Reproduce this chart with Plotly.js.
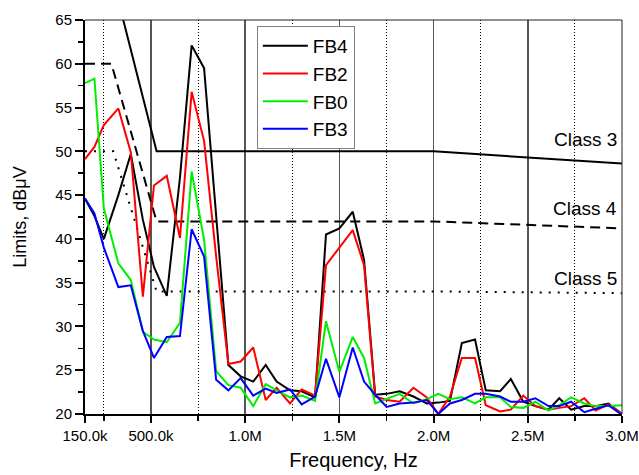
<!DOCTYPE html>
<html>
<head>
<meta charset="utf-8">
<script src="https://cdn.plot.ly/plotly-3.0.1.min.js"></script>
<style>html,body{margin:0;padding:0;background:#fff;}#chart{width:639px;height:475px;}</style>
</head>
<body>
<div id="chart"></div>
<script>
// Frequencies (MHz) of the measurement points
var freqMHz = [0.15,0.20,0.25,0.327,0.393,0.457,0.516,0.584,0.654,0.716,0.782,0.846,0.911,0.976,1.043,1.109,1.167,1.238,1.30,1.371,1.429,1.50,1.571,1.631,1.69,1.751,1.82,1.893,1.964,2.025,2.087,2.15,2.22,2.277,2.353,2.41,2.476,2.54,2.61,2.667,2.73,2.80,2.86,2.928,3.0];
var fb4 = [44.6,42.6,40.0,45.0,49.7,42.2,36.8,33.5,47.0,62.1,59.5,42.5,25.6,24.3,23.7,25.6,23.7,22.7,22.6,21.9,40.5,41.2,43.1,37.6,22.2,22.3,22.6,22.0,21.2,21.3,21.5,28.1,28.5,22.7,22.6,24.0,21.4,20.9,20.5,21.8,20.5,20.9,20.9,21.2,20.0];
var fb2 = [49.1,50.5,53.0,54.9,49.9,33.4,46.1,47.2,40.1,56.8,51.2,38.0,25.7,26.0,27.6,21.6,23.0,21.2,22.8,22.1,37.0,39.0,41.0,37.0,22.0,21.6,21.4,23.0,21.9,20.0,22.0,26.4,26.4,21.0,20.3,20.5,22.1,20.9,20.5,20.7,20.9,21.8,20.4,21.1,20.0];
var fb0 = [57.8,58.3,43.5,37.2,35.3,29.4,28.5,28.2,30.4,47.7,39.9,24.9,23.3,23.0,20.9,23.4,22.7,21.9,22.1,21.5,30.6,24.8,28.8,26.4,21.2,21.7,22.3,21.2,21.7,22.3,21.7,21.9,21.2,21.9,21.9,20.8,20.7,21.4,20.4,21.0,21.9,21.2,20.9,20.9,21.0];
var fb3 = [44.6,42.9,39.0,34.5,34.7,29.5,26.4,28.8,28.9,41.1,38.0,23.9,22.7,24.1,22.1,22.9,22.4,22.8,21.1,22.0,26.3,21.9,27.6,23.7,22.2,20.8,21.2,21.3,21.6,20.0,21.2,21.6,22.3,22.3,22.0,21.4,21.4,21.8,20.9,20.9,21.4,20.2,20.6,21.0,19.9];

// Limit lines
var class3F = [0.30,0.53,2.0,3.0];
var class3V = [69.5,50,50,48.6];
var class4F = [0.15,0.29,0.53,2.0,3.0];
var class4V = [60,60,42,42,41.2];
var class5F = [0.15,0.30,0.53,2.0,3.0];
var class5V = [50,50,34,34,33.8];

var seriesNames = ['FB4','FB2','FB0','FB3'];
var seriesColors = ['#000000','#ff0000','#00ee00','#0000ff'];
var seriesValues = [fb4, fb2, fb0, fb3];

var classNames = ['Class 3','Class 4','Class 5'];
var classLabelY = [51.3,43.5,35.5];

var xTickVals = [150000,500000,1000000,1500000,2000000,2500000,3000000];
var xTickText = ['150.0k','500.0k','1.0M','1.5M','2.0M','2.5M','3.0M'];
var xMinorVals = [250000,750000,1250000,1750000,2250000,2750000];

function hz(a){ return a.map(function(f){ return f*1e6; }); }

var FONT = 'Liberation Sans, Arial, Helvetica, sans-serif';
var traces = [];
traces.push({x: hz(class3F), y: class3V, mode:'lines', line:{color:'#000', width:2}, showlegend:false, hoverinfo:'skip'});
traces.push({x: hz(class4F), y: class4V, mode:'lines', line:{color:'#000', width:2, dash:'10px,6px'}, showlegend:false, hoverinfo:'skip'});
traces.push({x: hz(class5F), y: class5V, mode:'lines', line:{color:'#000', width:2, dash:'2px,7px'}, showlegend:false, hoverinfo:'skip'});
for (var i=0;i<seriesNames.length;i++){
  traces.push({x: hz(freqMHz), y: seriesValues[i], name: seriesNames[i], mode:'lines', line:{color: seriesColors[i], width:2}});
}

var annotations = classNames.map(function(n,i){
  return {x: 3000000, y: classLabelY[i], xref:'x', yref:'y', text:n, showarrow:false, xanchor:'right', yanchor:'middle', xshift:-3, font:{family:FONT, size:19, color:'#000'}};
});

var layout = {
  width: 639, height: 475,
  margin: {l:85, r:17, t:20, b:61, pad:0},
  paper_bgcolor:'#fff', plot_bgcolor:'#fff',
  font: {family: FONT, size: 15, color:'#000'},
  xaxis: {
    range:[150000,3000000], tickmode:'array', tickvals:xTickVals, ticktext:xTickText,
    ticks:'outside', ticklen:7, tickwidth:2, tickcolor:'#000',
    showline:true, linecolor:'#000', linewidth:2, zeroline:false,
    showgrid:true, gridcolor:'#555', gridwidth:1.5,
    minor:{tickmode:'array', tickvals:xMinorVals, ticks:'outside', ticklen:5, tickwidth:1.5, tickcolor:'#000', showgrid:true, gridcolor:'#000', gridwidth:1, griddash:'1px,2px'},
    tickfont:{family:FONT, size:15, color:'#000'},
    title:{text:'Frequency, Hz', font:{family:FONT, size:20, color:'#000'}, standoff:10}
  },
  yaxis: {
    range:[20,65], tickmode:'linear', tick0:20, dtick:5,
    ticks:'outside', ticklen:8, tickwidth:2, tickcolor:'#000',
    showline:true, linecolor:'#000', linewidth:2, zeroline:false, showgrid:false,
    minor:{tickmode:'linear', tick0:22.5, dtick:5, ticks:'outside', ticklen:5, tickwidth:1.5, tickcolor:'#000', showgrid:false},
    tickfont:{family:FONT, size:15, color:'#000'},
    title:{text:'Limits, dBμV', font:{family:FONT, size:18, color:'#000'}, standoff:24}
  },
  legend: {x:0.32, y:0.985, xanchor:'left', yanchor:'top', bgcolor:'#fff', bordercolor:'#808080', borderwidth:1, font:{family:FONT, size:19, color:'#000'}, itemwidth:45, tracegroupgap:0},
  shapes: [
    {type:'line', xref:'paper', yref:'paper', x0:0, x1:1, y0:1, y1:1, line:{color:'#222', width:1}},
    {type:'line', xref:'paper', yref:'paper', x0:1, x1:1, y0:0, y1:1, line:{color:'#222', width:1}}
  ],
  annotations: annotations,
  showlegend: true
};

Plotly.newPlot('chart', traces, layout, {staticPlot:true, displayModeBar:false});
</script>
</body>
</html>
